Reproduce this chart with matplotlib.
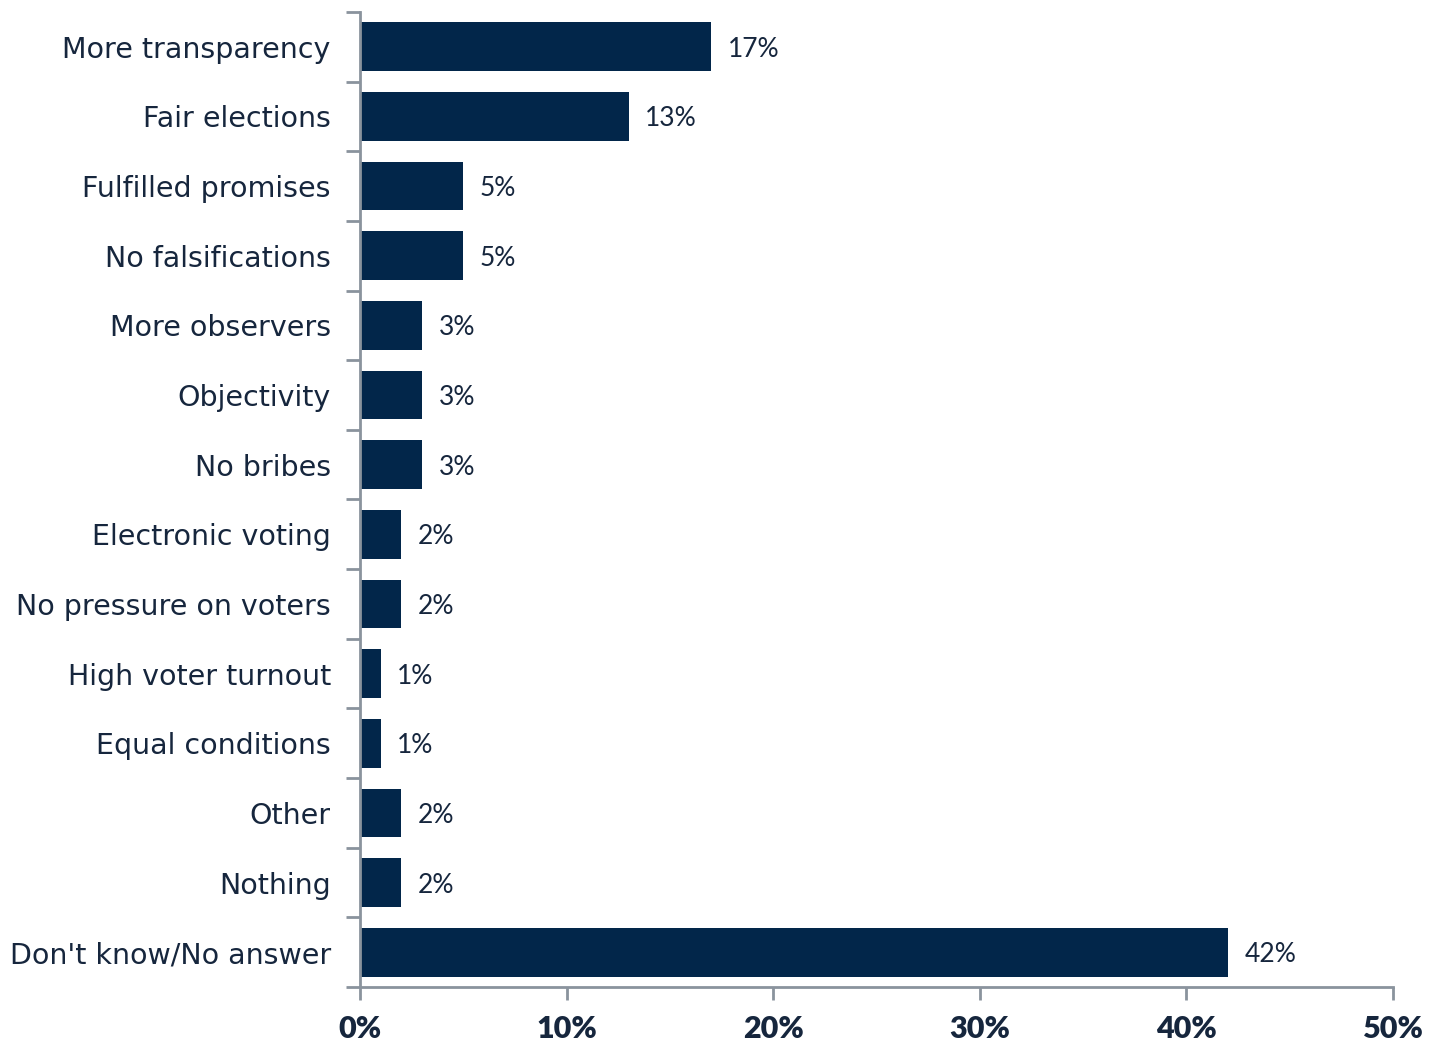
import matplotlib.pyplot as plt
import numpy as np

categories = ['More transparency', 'Fair elections', 'Fulfilled promises',
              'No falsifications', 'More observers', 'Objectivity', 'No bribes',
              'Electronic voting', 'No pressure on voters', 'High voter turnout',
              'Equal conditions', 'Other', 'Nothing', "Don't know/No answer"]
values = [17, 13, 5, 5, 3, 3, 3, 2, 2, 1, 1, 2, 2, 42]
xticks = [0, 10, 20, 30, 40, 50]

navy = '#02264a'
text_col = '#16263d'
axis_col = '#8a939d'

fig = plt.figure(figsize=(14.31, 10.42), dpi=100)
ax = fig.add_axes([0.2516, 0.0528, 0.7218, 0.9357])

y = np.arange(len(categories))
ax.barh(y, values, height=0.7, color=navy)

for yi, v in zip(y, values):
    ax.annotate(f'{v}%', (v, yi), xytext=(12, 0), textcoords='offset points',
                va='center_baseline', ha='left', fontsize=19, color=text_col,
                family='Lato')

ax.set_ylim(len(categories) - 0.5, -0.5)
ax.set_xlim(0, 50)

ax.set_yticks(y)
ax.set_yticklabels(categories, fontsize=20.5, color=text_col, family='DejaVu Sans')
ax.tick_params(axis='y', which='major', length=0, pad=21)
ax.set_yticks(np.arange(-0.5, len(categories)), minor=True)
ax.tick_params(axis='y', which='minor', length=10, width=2, color=axis_col)

ax.set_xticks(xticks)
ax.set_xticklabels([f'{t}%' for t in xticks], fontsize=22, fontweight='heavy',
                   color=text_col, family='Lato')
ax.tick_params(axis='x', length=9, width=2, color=axis_col, pad=11)

for s in ['top', 'right']:
    ax.spines[s].set_visible(False)
for s in ['left', 'bottom']:
    ax.spines[s].set_color(axis_col)
    ax.spines[s].set_linewidth(2)

plt.savefig('out.png', dpi=100)
